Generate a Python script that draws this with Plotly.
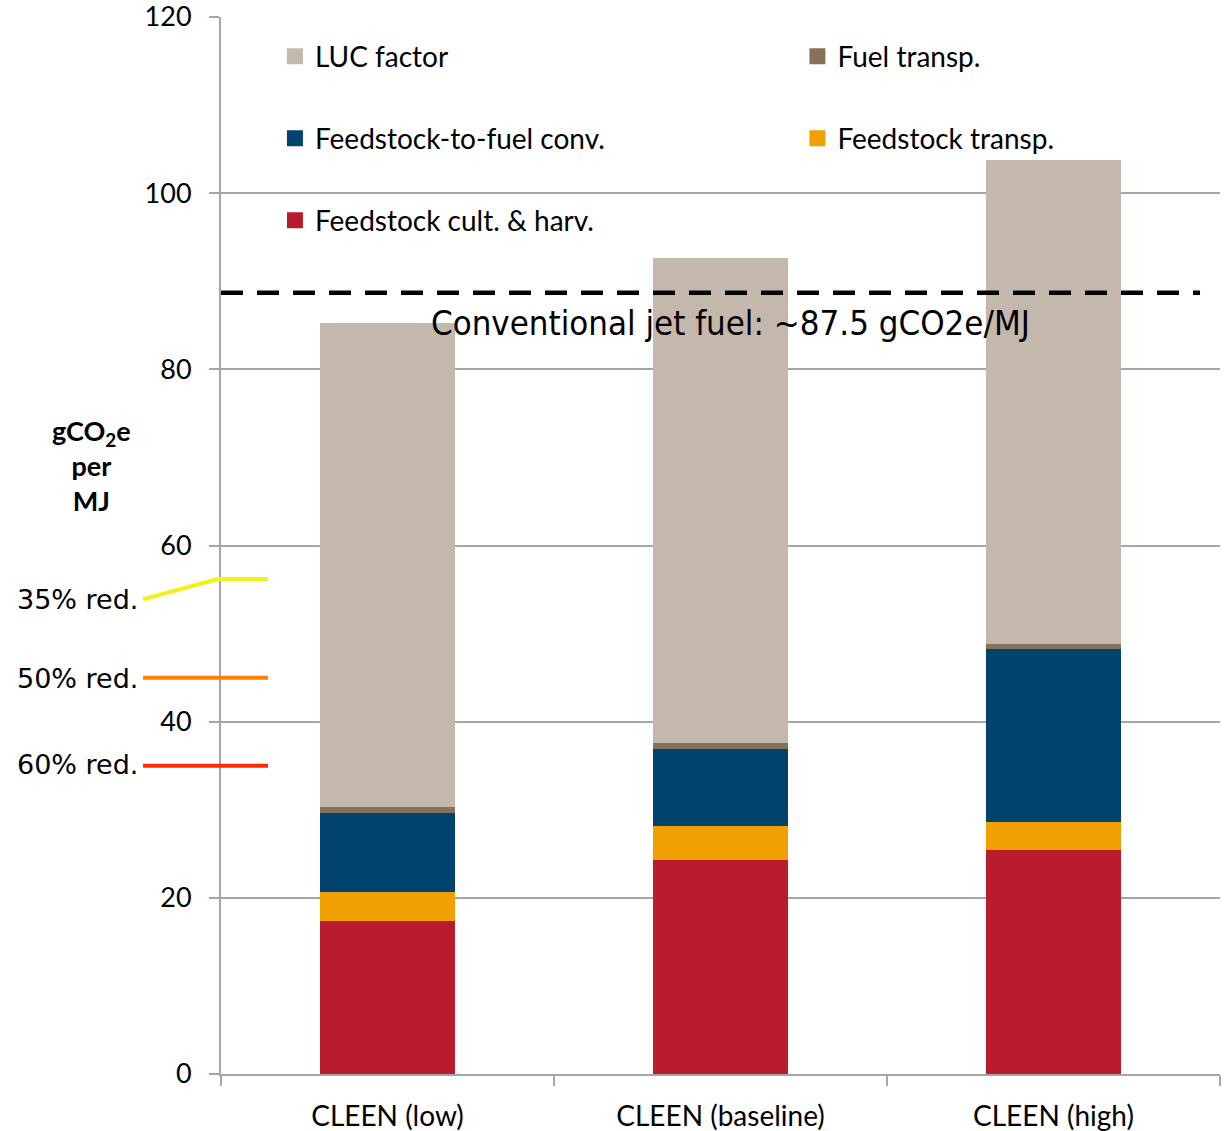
import plotly.graph_objects as go

categories = ["CLEEN (low)", "CLEEN (baseline)", "CLEEN (high)"]
series_names = ["Feedstock cult. & harv.", "Feedstock transp.", "Feedstock-to-fuel conv.",
                "Fuel transp.", "LUC factor"]
cult_harv = [17.4, 24.3, 25.45]
feed_transp = [3.3, 3.9, 3.15]
conv = [8.95, 8.7, 19.6]
fuel_transp = [0.65, 0.7, 0.6]
luc = [55.0, 55.0, 54.95]
series_values = [cult_harv, feed_transp, conv, fuel_transp, luc]
colors = ["#BA1B2E", "#F0A000", "#01436F", "#857259", "#C4B8AC"]

conventional_level = 88.7
conventional_label = "Conventional jet fuel: ~87.5 gCO2e/MJ"
reduction_labels = ["35% red.", "50% red.", "60% red."]
reduction_levels = [56.2, 45.0, 35.0]
reduction_label_levels = [53.9, 44.9, 35.1]
reduction_colors = ["#F2F21A", "#FF7F00", "#FF2A00"]
y_ticks = [0, 20, 40, 60, 80, 100, 120]

# legend placement: (legend id, x paper, y paper)
legend_slots = {
    "LUC factor": ("legend", 0.054, 0.9626),
    "Fuel transp.": ("legend2", 0.577, 0.9626),
    "Feedstock-to-fuel conv.": ("legend3", 0.054, 0.885),
    "Feedstock transp.": ("legend4", 0.577, 0.885),
    "Feedstock cult. & harv.": ("legend5", 0.054, 0.8074),
}

FONT = "Lato, 'Open Sans', sans-serif"
fig = go.Figure()
for name, vals, col in zip(series_names, series_values, colors):
    fig.add_trace(go.Bar(x=categories, y=vals, name=name, marker=dict(color=col, line=dict(width=0)),
                         width=0.405, showlegend=False))

layout_legends = {}
for name, col in zip(series_names, colors):
    lid, lx, ly = legend_slots[name]
    fig.add_trace(go.Scatter(x=[None], y=[None], mode="markers", name=name,
                             marker=dict(symbol="square", size=16, color=col),
                             legend=lid, showlegend=True))
    layout_legends[lid] = dict(x=lx, y=ly, xanchor="left", yanchor="middle",
                               font=dict(family=FONT, size=28, color="black"),
                               bgcolor="rgba(0,0,0,0)", borderwidth=0)

fig.update_layout(**layout_legends)

# conventional jet fuel line
fig.add_shape(type="line", xref="paper", yref="y", x0=0, x1=0.98,
              y0=conventional_level, y1=conventional_level,
              line=dict(color="black", width=4.5, dash="22px,14px"))
fig.add_annotation(xref="paper", yref="y", x=0.51, y=85.3, text=conventional_label,
                   showarrow=False, xanchor="center", yanchor="middle",
                   font=dict(family="'Liberation Sans Narrow', 'DejaVu Sans Condensed', sans-serif",
                             size=34.5, color="black"))

# reduction markers
for i, (lab, lvl, llvl, col) in enumerate(zip(reduction_labels, reduction_levels,
                                               reduction_label_levels, reduction_colors)):
    if i == 0:
        fig.add_shape(type="line", xref="paper", yref="y", x0=-0.078, x1=-0.003,
                      y0=llvl, y1=lvl, line=dict(color=col, width=4))
        fig.add_shape(type="line", xref="paper", yref="y", x0=-0.003, x1=0.047,
                      y0=lvl, y1=lvl, line=dict(color=col, width=4))
    else:
        fig.add_shape(type="line", xref="paper", yref="y", x0=-0.078, x1=0.047,
                      y0=lvl, y1=lvl, line=dict(color=col, width=4))
    fig.add_annotation(xref="paper", yref="y", x=-0.081, y=llvl, text=lab,
                       showarrow=False, xanchor="right", yanchor="middle",
                       font=dict(family="'DejaVu Sans', sans-serif", size=27, color="black"))

fig.add_annotation(xref="paper", yref="y", x=-0.13, y=69.1,
                   text="<b>gCO<sub>2</sub>e<br>per<br>MJ</b>", showarrow=False,
                   xanchor="center", yanchor="middle", align="center",
                   font=dict(family=FONT, size=27, color="black"))

fig.update_layout(
    width=1228, height=1131,
    margin=dict(l=221, r=8, t=17, b=57, autoexpand=False),
    paper_bgcolor="white", plot_bgcolor="white",
    barmode="stack", bargap=0.595,
    font=dict(family=FONT, size=27, color="black"),
    xaxis=dict(showgrid=False, showline=True, linecolor="#A6A6A6", linewidth=2,
               ticks="outside", tickson="boundaries", ticklen=10, tickcolor="#A6A6A6",
               tickwidth=2, ticklabelstandoff=16, ticklabeloverflow="allow", automargin=False,
               tickfont=dict(family=FONT, size=28, color="black")),
    yaxis=dict(range=[0, 120], tickvals=y_ticks, showgrid=True, gridcolor="#A6A6A6",
               gridwidth=2, showline=True, linecolor="#A6A6A6", linewidth=2,
               ticks="outside", ticklen=10, tickcolor="#A6A6A6", tickwidth=2,
               zeroline=False, ticklabelstandoff=12, ticklabeloverflow="allow",
               automargin=False, tickfont=dict(family=FONT, size=27, color="black")),
)

# remove the default page margin so the figure sits at the window's top-left corner
fig.write_html("out.html", config={"displayModeBar": False},
               post_script="document.body.style.margin='0';")
